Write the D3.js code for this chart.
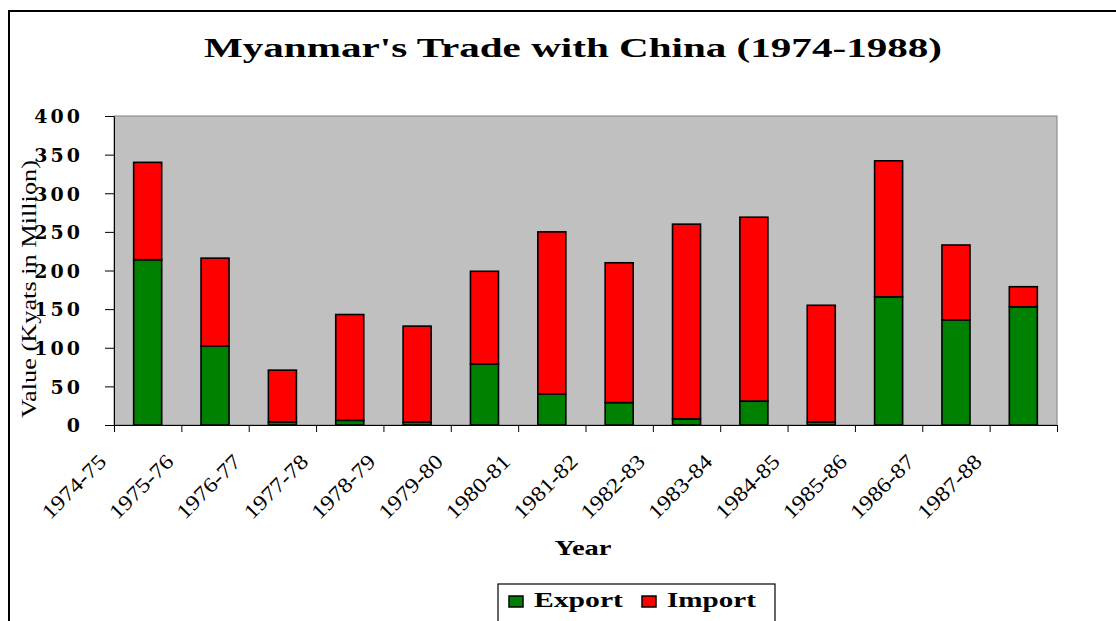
<!DOCTYPE html>
<html>
<head>
<meta charset="utf-8">
<script src="https://cdn.jsdelivr.net/npm/d3@7"></script>
<style>
  body { margin: 0; background: #fff; }
  svg { display: block; }
</style>
</head>
<body>
<svg id="chart" width="1116" height="621"></svg>
<script>
// values (Kyats in Million)
var years = ['1974-75', '1975-76', '1976-77', '1977-78', '1978-79', '1979-80', '1980-81',
  '1981-82', '1982-83', '1983-84', '1984-85', '1985-86', '1986-87', '1987-88']
var exportVals = [214, 102, 4, 6, 4, 79, 40, 29, 8, 31, 4, 166, 136, 153]
var importVals = [126, 114, 67, 137, 124, 120, 210, 181, 252, 238, 151, 176, 97, 26]
var yTicks = [0, 50, 100, 150, 200, 250, 300, 350, 400]
var seriesNames = ['Export', 'Import']
var seriesColors = ['#008000', '#ff0000']

var svg = d3.select('#chart')
var plotLeft = 114, plotRight = 1057, plotTop = 116, plotBottom = 425

// outer chart frame (only top and left edges are in view)
svg.append('path')
  .attr('d', 'M9,621 L9,11 L1116,11')
  .attr('fill', 'none')
  .attr('stroke', '#000')
  .attr('stroke-width', 2)

svg.append('text')
  .attr('x', 573).attr('y', 57)
  .attr('text-anchor', 'middle')
  .attr('font-family', 'Liberation Serif')
  .attr('font-weight', 'bold')
  .attr('font-size', 28)
  .attr('textLength', 738)
  .attr('lengthAdjust', 'spacingAndGlyphs')
  .text("Myanmar's Trade with China (1974-1988)")

var x = d3.scaleBand().domain(years).range([plotLeft, plotRight]).paddingInner(0.584).paddingOuter(0.292)
var y = d3.scaleLinear().domain([0, 400]).range([plotBottom, plotTop])
var xTick = d3.scaleLinear().domain([0, years.length]).range([plotLeft, plotRight])

// plot area
svg.append('rect')
  .attr('x', plotLeft).attr('y', plotTop)
  .attr('width', plotRight - plotLeft).attr('height', plotBottom - plotTop)
  .attr('fill', '#c0c0c0')
  .attr('stroke', '#808080')
  .attr('stroke-width', 1)

var stacked = d3.stack().keys([0, 1]).value(function (d, k) { return d[k] })(
  years.map(function (yr, i) { return [exportVals[i], importVals[i]] })
)

svg.append('g').selectAll('g')
  .data(stacked)
  .enter().append('g')
  .attr('fill', function (d, i) { return seriesColors[i] })
  .selectAll('rect')
  .data(function (d) { return d })
  .enter().append('rect')
  .attr('x', function (d, i) { return x(years[i]) })
  .attr('y', function (d) { return y(d[1]) })
  .attr('width', x.bandwidth())
  .attr('height', function (d) { return y(d[0]) - y(d[1]) })
  .attr('stroke', '#000')
  .attr('stroke-width', 1.6)

// y axis
var gy = svg.append('g')
  .attr('transform', 'translate(' + plotLeft + ',0)')
  .call(d3.axisLeft(y).tickValues(yTicks).tickSize(9).tickSizeOuter(0))
gy.select('.domain').attr('stroke', '#000')
gy.selectAll('line').attr('stroke', '#000')
gy.selectAll('text')
  .attr('x', -31)
  .attr('dy', '0.36em')
  .attr('font-family', 'DejaVu Serif')
  .attr('font-weight', 'bold')
  .attr('font-size', 19)
  .attr('letter-spacing', 3)
  .attr('fill', '#000')

// x axis: labels sit at the category boundaries
var gx = svg.append('g')
  .attr('transform', 'translate(0,' + plotBottom + ')')
  .call(d3.axisBottom(xTick)
    .tickValues(d3.range(years.length + 1))
    .tickSize(7).tickSizeOuter(0)
    .tickFormat(function (i) { return years[i] || '' }))
gx.select('.domain').attr('stroke', '#000')
gx.selectAll('line').attr('stroke', '#000')
gx.selectAll('text')
  .attr('x', 0)
  .attr('y', 0)
  .attr('dy', 0)
  .attr('text-anchor', 'end')
  .attr('transform', 'translate(-7,38) rotate(-45)')
  .attr('font-family', 'Liberation Serif')
  .attr('font-size', 21)
  .attr('fill', '#000')
  .each(function (d) { if (years[d]) d3.select(this).attr('textLength', 81).attr('lengthAdjust', 'spacingAndGlyphs') })

svg.append('text')
  .attr('transform', 'translate(36,289) rotate(-90)')
  .attr('text-anchor', 'middle')
  .attr('font-family', 'Liberation Serif')
  .attr('font-size', 21)
  .attr('textLength', 258)
  .attr('lengthAdjust', 'spacingAndGlyphs')
  .text('Value (Kyats in Million)')

svg.append('text')
  .attr('x', 583).attr('y', 555)
  .attr('text-anchor', 'middle')
  .attr('font-family', 'Liberation Serif')
  .attr('font-weight', 'bold')
  .attr('font-size', 21)
  .attr('textLength', 57)
  .attr('lengthAdjust', 'spacingAndGlyphs')
  .text('Year')

// legend
var lg = svg.append('g')
lg.append('rect')
  .attr('x', 498).attr('y', 584)
  .attr('width', 277).attr('height', 60)
  .attr('fill', '#fff')
  .attr('stroke', '#000')
  .attr('stroke-width', 1.2)
var legendX = [509, 642]
seriesNames.forEach(function (name, i) {
  lg.append('rect')
    .attr('x', legendX[i]).attr('y', 596)
    .attr('width', 14).attr('height', 11)
    .attr('fill', seriesColors[i])
    .attr('stroke', '#000')
    .attr('stroke-width', 1.5)
  lg.append('text')
    .attr('x', legendX[i] + 25).attr('y', 607)
    .attr('font-family', 'Liberation Serif')
    .attr('font-weight', 'bold')
    .attr('font-size', 21)
    .attr('textLength', 89)
    .attr('lengthAdjust', 'spacingAndGlyphs')
    .text(name)
})
</script>
</body>
</html>
